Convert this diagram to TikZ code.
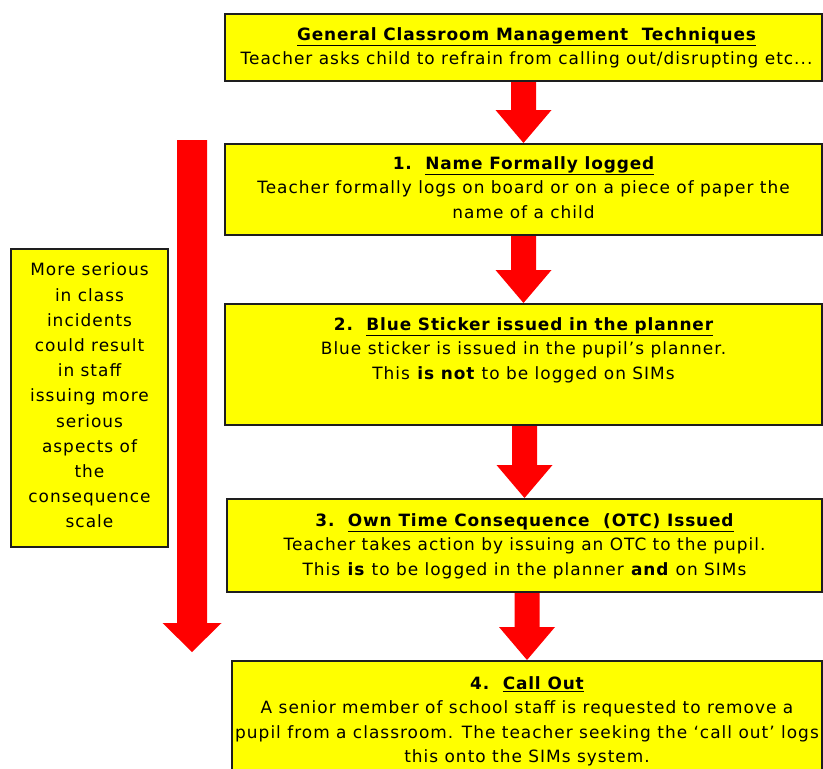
\documentclass[tikz,border=0pt]{standalone}
\usepackage{fontspec}
\setmainfont{DejaVu Sans}[LetterSpace=6, BoldFeatures={LetterSpace=5}]
\usetikzlibrary{calc}
\definecolor{boxyellow}{RGB}{255,255,0}
\definecolor{arrowred}{RGB}{255,0,0}
\definecolor{edgegray}{RGB}{30,30,30}
\newcommand\blockarrow[2]{%
  \fill[arrowfill] ($(#2.north |- #1.south)+(-12.5,0)$) -- ($(#2.north)+(-12.5,-33)$) -- ($(#2.north)+(-28,-33)$) -- (#2.north)
    -- ($(#2.north)+(28,-33)$) -- ($(#2.north)+(12.5,-33)$) -- ($(#2.north |- #1.south)+(12.5,0)$) -- cycle;}
\tikzset{
  boxnode/.style={draw=edgegray, line width=2bp, fill=boxyellow, inner sep=0pt, anchor=north west},
  txt/.style={align=center, inner sep=0pt, anchor=north, font=\fontsize{17}{24.5}\selectfont},
  sidetxt/.style={align=center, inner sep=0pt, anchor=north, font=\fontsize{17}{25.3}\selectfont},
  arrowfill/.style={fill=arrowred},
}
\begin{document}
\begin{tikzpicture}[x=1bp,y=-1bp]
\useasboundingbox[fill=white] (0,0) rectangle (823,769);
% boxes
\node[boxnode, minimum width=597bp, minimum height=67bp] (b0) at (224,13) {};
\node[boxnode, minimum width=597bp, minimum height=91bp] (b1) at (224,143) {};
\node[boxnode, minimum width=597bp, minimum height=121bp] (b2) at (224,303) {};
\node[boxnode, minimum width=595bp, minimum height=93bp] (b3) at (226,498) {};
\node[boxnode, minimum width=590bp, minimum height=120bp] (b4) at (231,660) {};
\node[boxnode, minimum width=157bp, minimum height=298bp] (side) at (10,248) {};
% texts
\node[txt] (t0) at ($(b0.north)+(3,10)$) {\strut\textbf{\underline{General Classroom Management\ \ Techniques}}\\
Teacher asks child to refrain from calling out/disrupting etc...};
\node[txt] (t1) at ($(b1.north)+(0,9)$) {\strut\textbf{1.\ \ \underline{Name\ Formally logged}}\\
Teacher formally logs on board or on a piece of paper the\\ name of a child};
\node[txt] (t2) at ($(b2.north)+(0,10)$) {\strut\textbf{2.\ \ \underline{Blue Sticker issued in the planner}}\\
Blue sticker is issued in the pupil’s planner.\\ This \textbf{is not} to be logged on SIMs};
\node[txt] (t3) at ($(b3.north)+(0,11)$) {\strut\textbf{3.\ \ \underline{Own Time Consequence\ \ (OTC) Issued}}\\
Teacher takes action by issuing an OTC to the pupil.\\ This \textbf{is} to be logged in the planner \textbf{and} on SIMs};
\node[txt] (t4) at ($(b4.north)+(0,12)$) {\strut\textbf{4.\ \ \underline{Call Out}}\\
A senior member of school staff is requested to remove a\\ pupil from a classroom. The teacher seeking the ‘call out’ logs\\ this onto the SIMs system.};
\node[sidetxt] (ts) at ($(side.north)+(0,10)$) {\strut More serious\\ in class\\ incidents\\ could result\\ in staff\\ issuing more\\ serious\\ aspects of\\ the\\ consequence\\ scale};
% arrows
\blockarrow{b0}{b1}
\blockarrow{b1}{b2}
\blockarrow{b2}{b3}
\blockarrow{b3}{b4}
% big arrow
\coordinate (bigtop) at (192,140);
\coordinate (bigtip) at (192,652);
\fill[arrowfill] ($(bigtop)+(-15,0)$) -- ($(bigtip)+(-15,-29)$) -- ($(bigtip)+(-29.5,-29)$) -- (bigtip)
  -- ($(bigtip)+(29.5,-29)$) -- ($(bigtip)+(15,-29)$) -- ($(bigtop)+(15,0)$) -- cycle;
\end{tikzpicture}
\end{document}
